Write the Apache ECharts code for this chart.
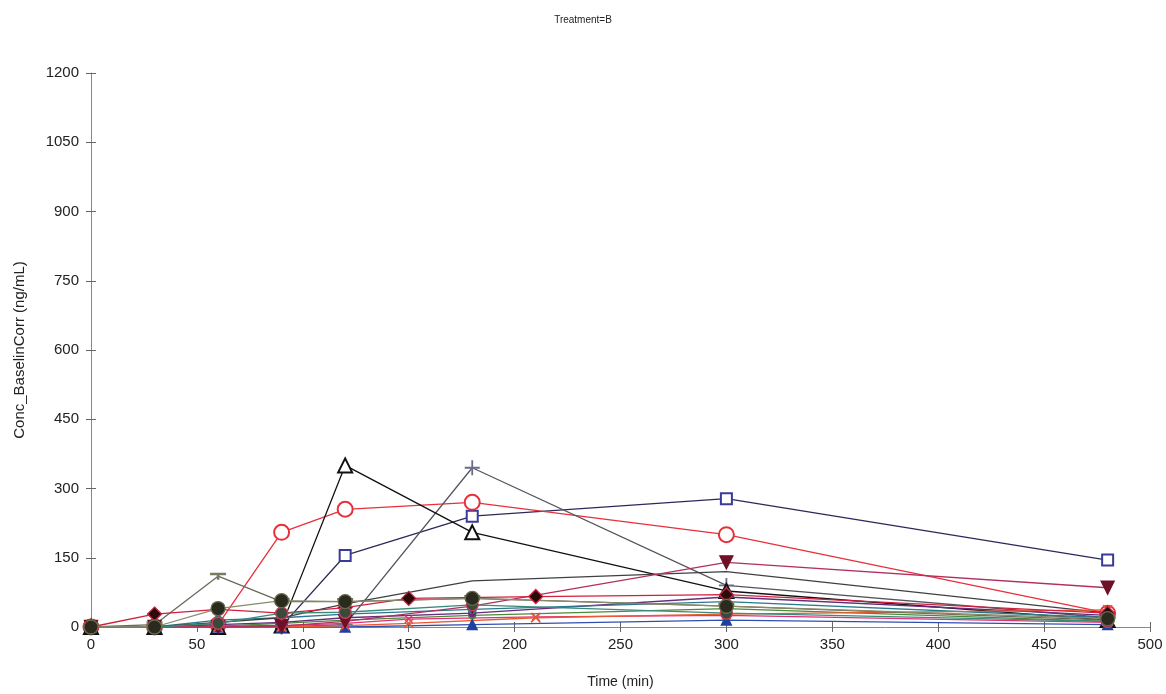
<!DOCTYPE html>
<html>
<head>
<meta charset="utf-8">
<script src="https://cdn.jsdelivr.net/npm/echarts@6/dist/echarts.min.js"></script>
<style>
  html, body { margin: 0; padding: 0; background: #fff; }
  #chart { width: 1166px; height: 694px; }
</style>
</head>
<body>
<div id="chart"></div>
<script>
// sampling times (min)
const t8 = [0, 30, 60, 90, 120, 180, 300, 480];
const t9 = [0, 30, 60, 90, 120, 150, 210, 300, 480];

// concentrations per subject (ng/mL)
const subjTri = [0, 0, 0, 3, 350, 205, 78, 15];
const subjPlus = [0, 0, 0, 0, 5, 345, 90, 20];
const subjCircle = [0, 0, 5, 205, 255, 270, 200, 30];
const subjSquare = [0, 0, 0, 2, 155, 240, 278, 145];
const subjTee = [0, 5, 110, 55, 55, 62, 45, 15];
const subjDownTri = [0, 0, 0, 2, 12, 45, 140, 85];
const subjDot1 = [0, 0, 40, 57, 55, 62, 45, 18];
const subjDot2 = [0, 0, 8, 30, 32, 48, 30, 12];
const subjDiamond = [0, 28, 38, 30, 42, 62, 66, 70, 30];
const subjCross = [0, 0, 0, 0, 3, 8, 20, 28, 37];
const subjStar = [0, 0, 0, 3, 8, 17, 22, 25, 10];
const subjGray = [0, 0, 10, 20, 50, 100, 120, 30];
const subjBlue = [0, 0, 0, 0, 0, 5, 15, 5];
const subjTeal = [0, 0, 15, 20, 28, 38, 55, 20];
const subjPurple = [0, 0, 5, 10, 20, 30, 65, 25];
const subjGreen = [0, 0, 2, 8, 15, 25, 40, 12];

const xTicks = [0, 50, 100, 150, 200, 250, 300, 350, 400, 450, 500];
const yTicks = [0, 150, 300, 450, 600, 750, 900, 1050, 1200];

const PLUS = 'path://M4.4,0H5.6V4.4H10V5.6H5.6V10H4.4V5.6H0V4.4H4.4Z';
const TEE = 'path://M0,0H10V1.6H5.8V4.5H4.2V1.6H0Z';

function zip(t, v) {
  return t.map((x, i) => [x, v[i]]);
}

function line(times, vals, opt) {
  return {
    type: 'line',
    xAxisIndex: 0,
    yAxisIndex: 0,
    data: zip(times, vals),
    symbol: opt.symbol,
    symbolSize: opt.size || 10,
    symbolRotate: opt.rotate || 0,
    showAllSymbol: true,
    z: opt.z || 2,
    lineStyle: { color: opt.line || opt.color, width: 1.3 },
    itemStyle: {
      color: opt.fill || opt.color,
      borderColor: opt.border || opt.color,
      borderWidth: opt.bw == null ? 1.3 : opt.bw
    }
  };
}

// open markers first (lower z), filled ones drawn on top like the original
const series = [
  line(t8, subjSquare, { symbol: 'emptyRect', size: 11, color: '#3a3a9a', line: '#2a2a5a' }),
  line(t8, subjCircle, { symbol: 'emptyCircle', size: 15, color: '#e8303a' }),
  line(t8, subjPlus, { symbol: PLUS, size: 15, color: '#6a6a8a', line: '#555560', bw: 0 }),
  line(t8, subjTri, { symbol: 'emptyTriangle', size: 14, color: '#111111' }),
  line(t8, subjGreen, { symbol: 'circle', size: 7, color: '#4a8a3a', z: 3 }),
  line(t8, subjPurple, { symbol: 'circle', size: 7, color: '#6a2a7a', z: 3 }),
  line(t8, subjTeal, { symbol: 'circle', size: 8, color: '#2a7a8a', z: 3 }),
  line(t8, subjBlue, { symbol: 'triangle', size: 10, color: '#2040a0', line: '#3050b0', z: 3 }),
  line(t8, subjGray, { symbol: 'none', color: '#404040', z: 3 }),
  line(t9, subjStar, { symbol: PLUS, size: 11, rotate: 45, color: '#e0307a', bw: 0, z: 3 }),
  line(t9, subjCross, { symbol: PLUS, size: 13, rotate: 45, color: '#e85a30', bw: 0, z: 3 }),
  line(t8, subjTee, { symbol: TEE, size: [16, 7], color: '#7a7a60', line: '#6a6a5a', bw: 0, z: 3 }),
  line(t8, subjDownTri, { symbol: 'triangle', size: 13, rotate: 180, color: '#701028', line: '#b03060', z: 4 }),
  line(t9, subjDiamond, { symbol: 'diamond', size: 14, fill: '#2a0a0a', border: '#d02040', line: '#d02040', z: 4 }),
  line(t8, subjDot2, { symbol: 'circle', size: 12, fill: '#3a4a3a', border: '#c84060', line: '#3a8a7a', z: 4 }),
  line(t8, subjDot1, { symbol: 'circle', size: 14, fill: '#2a2a1e', border: '#6a6a4a', line: '#8a8a6a', z: 4 })
];

const labelFont = { fontFamily: 'Liberation Sans, Arial, sans-serif', fontSize: 15, color: '#222' };

const chart = echarts.init(document.getElementById('chart'));
chart.setOption({
  animation: false,
  backgroundColor: '#fff',
  title: {
    text: 'Treatment=B',
    left: 'center',
    top: 10,
    textStyle: { fontFamily: 'Liberation Sans Narrow, Liberation Sans, sans-serif', fontSize: 10, fontWeight: 'normal', color: '#222' }
  },
  grid: { left: 91, right: 16, top: 73, bottom: 64 },
  xAxis: [
    {
      type: 'value', min: xTicks[0], max: xTicks[xTicks.length - 1], interval: 50,
      name: 'Time (min)', nameLocation: 'middle', nameGap: 48,
      nameTextStyle: { fontFamily: 'Liberation Sans, Arial, sans-serif', fontSize: 14, color: '#222' },
      axisLine: { lineStyle: { color: '#888', width: 1 } },
      axisTick: { length: 5, lineStyle: { color: '#666' } },
      axisLabel: Object.assign({ margin: 10, formatter: v => String(v) }, labelFont),
      splitLine: { show: false }
    },
    {
      type: 'value', min: xTicks[0], max: xTicks[xTicks.length - 1], interval: 50, position: 'bottom',
      axisLine: { show: false }, axisLabel: { show: false }, splitLine: { show: false },
      axisTick: { inside: true, length: 5, lineStyle: { color: '#666' } }
    }
  ],
  yAxis: [
    {
      type: 'value', min: yTicks[0], max: yTicks[yTicks.length - 1], interval: 150,
      name: 'Conc_BaselinCorr (ng/mL)', nameLocation: 'middle', nameGap: 64, nameRotate: 90,
      nameTextStyle: { fontFamily: 'Liberation Sans, Arial, sans-serif', fontSize: 15, color: '#222' },
      axisLine: { show: true, lineStyle: { color: '#888', width: 1 } },
      axisTick: { show: true, length: 5, lineStyle: { color: '#666' } },
      axisLabel: Object.assign({ margin: 12, formatter: v => String(v) }, labelFont),
      splitLine: { show: false }
    },
    {
      type: 'value', min: yTicks[0], max: yTicks[yTicks.length - 1], interval: 150, position: 'left',
      axisLine: { show: false }, axisLabel: { show: false }, splitLine: { show: false },
      axisTick: { show: true, inside: true, length: 5, lineStyle: { color: '#666' } }
    }
  ],
  series: series
});
</script>
</body>
</html>
